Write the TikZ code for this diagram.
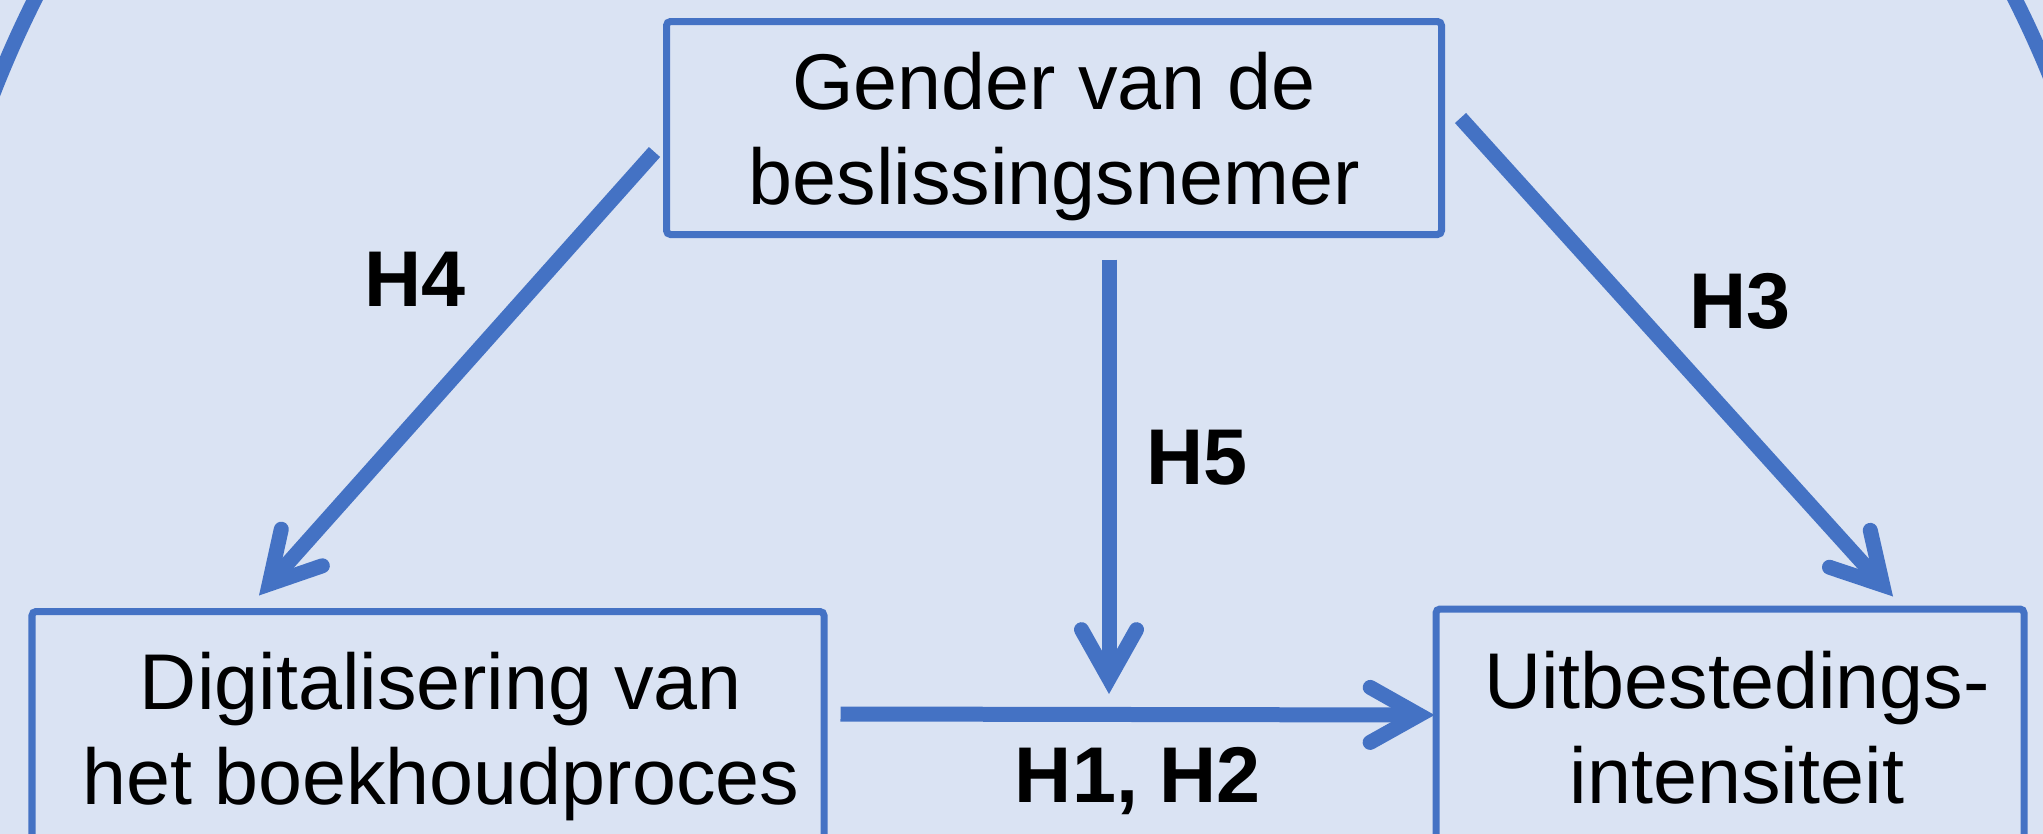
\documentclass[tikz,border=0pt]{standalone}
\usepackage{fontspec}
\setmainfont{Liberation Sans}
\usetikzlibrary{arrows.meta,calc}
\definecolor{bgblue}{HTML}{DAE3F3}
\definecolor{lineblue}{HTML}{4472C4}

\begin{document}
\begin{tikzpicture}[
    font=\fontsize{22.5}{27}\selectfont,
    box/.style={draw=lineblue, line width=0.07cm, rounded corners=0.04cm, align=center, inner sep=0pt},
    arr/.style={draw=lineblue, line width=0.15cm, -{Straight Barb[length=4.9mm,width=5.5mm,line cap=round]}},
    hyp/.style={font=\fontsize{22.5}{27}\selectfont\bfseries, anchor=base}
  ]
      \useasboundingbox (0,0) rectangle (20.43,-8.34);
      \clip (0,0) rectangle (20.43,-8.34);
      \fill[bgblue] (0,0) rectangle (20.43,-8.34);
      \draw[lineblue, line width=0.15cm] (10.25,-4.95) circle (11.07);

      \node[box, minimum width=7.75cm, minimum height=2.13cm] (gender) at (10.54,-1.28) {Gender van de\\\smash{beslissingsnemer}};
      \node[box, minimum width=7.92cm, minimum height=2.33cm] (digital) at (4.28,-7.28) {\hspace*{0.26cm}Digitalisering van\\\smash{\hspace*{0.26cm}het boekhoudproces}};
      \node[box, minimum width=5.88cm, minimum height=2.36cm] (uitb) at (17.30,-7.27) {\hspace*{0.14cm}Uitbestedings-\\\smash{\hspace*{0.14cm}intensiteit}};

      \coordinate (h12s) at ($(digital.east)+(0.13,0.14)$);
      \coordinate (h5s) at ($(gender.south)+(0.55,-0.215)$);

      \draw[arr] ($(gender.west)+(-0.085,-0.24)$) -- ($(digital.north)+(-1.69,0.125)$);
      \draw[arr] ($(gender.east)+(0.155,0.10)$) -- ($(uitb.north)+(1.63,0.09)$);
      \draw[arr] (h12s) -- ($(uitb.west)+(0.02,0.12)$);
      \draw[arr, shorten >=0.2cm] (h5s) -- (h5s |- h12s);

      \node[hyp] (h4) at (4.15,-3.06) {H4};
      \node[hyp] (h3) at (17.40,-3.28) {H3};
      \node[hyp] (h5) at (11.97,-4.84) {H5};
      \node[hyp] (h12) at (11.38,-8.02) {H1, H2};
\end{tikzpicture}
\end{document}
